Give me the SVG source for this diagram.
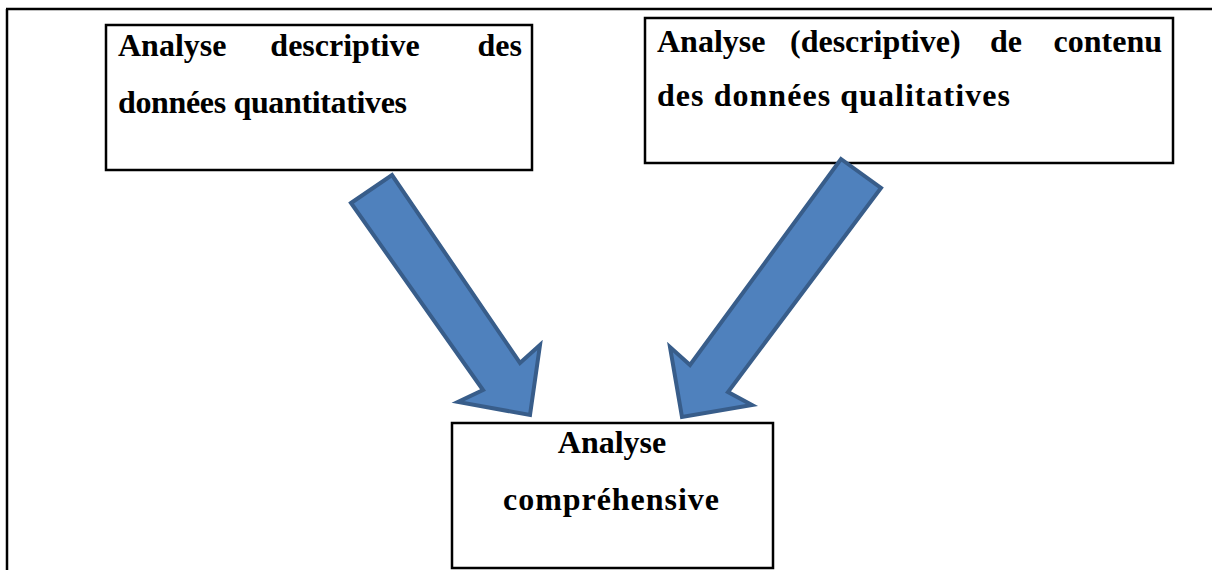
<svg xmlns="http://www.w3.org/2000/svg" width="1212" height="570" viewBox="0 0 1212 570">
<style>
.frame{stroke:#000;stroke-width:2.5;fill:none}
.box{fill:#fff;stroke:#000;stroke-width:2.5}
.t{font-family:"Liberation Serif","Times New Roman",serif;font-weight:bold;font-size:32px;fill:#000}
.m{text-anchor:middle}
.e{text-anchor:end}
.arrow{fill:#4F81BD;stroke:#385D8A;stroke-width:4;stroke-linejoin:miter}
</style>
<rect width="1212" height="570" fill="#fff"/>
<g id="frame">
<line class="frame" x1="6" y1="9" x2="1212" y2="9"/>
<line class="frame" x1="7" y1="9" x2="7" y2="570"/>
</g>
<g id="node-quantitative">
<rect class="box" x="106" y="25" width="426" height="145"/>
<text class="t" x="118" y="56">Analyse</text>
<text class="t m" x="345" y="56">descriptive</text>
<text class="t e" x="522" y="56">des</text>
<text class="t" x="118" y="113" textLength="289" lengthAdjust="spacing">données quantitatives</text>
</g>
<g id="node-qualitative">
<rect class="box" x="645" y="18" width="528" height="145"/>
<text class="t" x="657" y="52">Analyse</text>
<text class="t" x="790" y="52">(descriptive)</text>
<text class="t" x="990" y="52">de</text>
<text class="t e" x="1162" y="52">contenu</text>
<text class="t" x="657" y="106" textLength="353" lengthAdjust="spacing">des données qualitatives</text>
</g>
<g id="node-comprehensive">
<rect class="box" x="452" y="423" width="321" height="145"/>
<text class="t m" x="612" y="453">Analyse</text>
<text class="t m" x="611" y="510" textLength="216" lengthAdjust="spacing">compréhensive</text>
</g>
<g id="connectors">
<polygon class="arrow" points="351,203 392,175 520,363 540,345 530,415 458,402 483,390"/>
<polygon class="arrow" points="841,159 881,188 728,392 752,405 682,417 670,347 690,365"/>
</g>
</svg>
